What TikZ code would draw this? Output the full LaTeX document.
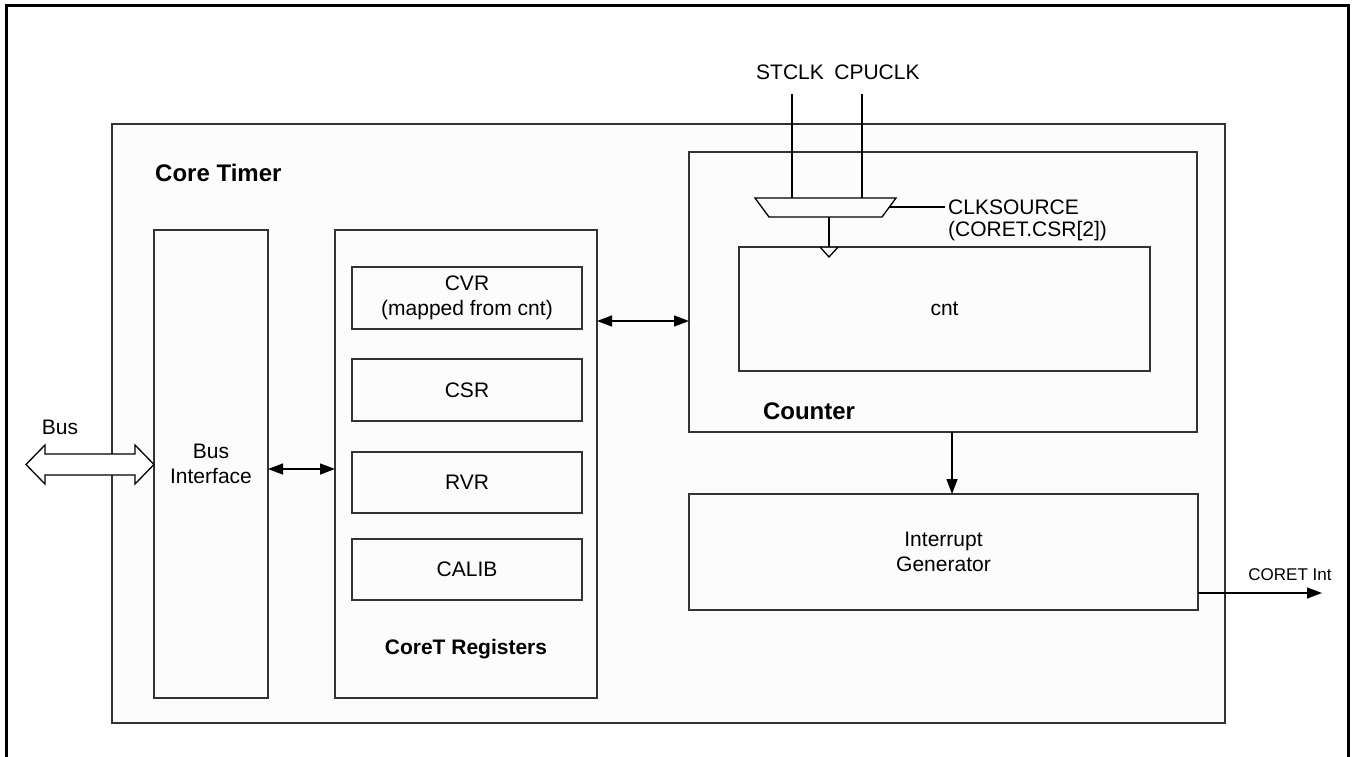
\documentclass[tikz,border=0pt]{standalone}
\usepackage{fontspec}
\setmainfont{Liberation Sans}
\usetikzlibrary{arrows.meta}
\definecolor{boxline}{HTML}{333333}
\definecolor{boxfill}{HTML}{FCFCFC}
\tikzset{
  blk/.style={draw=boxline, fill=boxfill, line width=1.5pt, inner sep=0pt, outer sep=0pt},
  txt/.style={font=\fontsize{21}{25}\selectfont, align=center, inner sep=0pt},
  btxt/.style={font=\fontsize{21}{25}\selectfont\bfseries, align=center, inner sep=0pt},
  bigb/.style={font=\fontsize{24}{28}\selectfont\bfseries, inner sep=0pt},
  smtxt/.style={font=\fontsize{17}{20}\selectfont, inner sep=0pt},
  conn/.style={line width=1.3pt, black},
  tip/.style={-{Triangle[length=15pt,width=11pt]}},
  dtip/.style={{Triangle[length=15pt,width=11pt]}-{Triangle[length=15pt,width=11pt]}},
}
\begin{document}
\begin{tikzpicture}[x=1pt,y=-1pt]
\useasboundingbox (0,0) rectangle (1355,756);
\begin{scope}
\clip (0,0) rectangle (1355,756);
\draw[line width=3pt, black] (6,5) rectangle (1348,780);
\end{scope}
% main boxes
\node[blk, minimum width=1113pt, minimum height=599pt] (coretimer) at (668.5,423.5) {};
\node[bigb, anchor=west] (ctlabel) at (155,173) {Core Timer};
\node[blk, minimum width=114pt, minimum height=468pt] (busif) at (211,464) {};
\node[txt] (busiflabel) at (211,464) {Bus\\Interface};
\node[blk, minimum width=262pt, minimum height=468pt] (regs) at (466,464) {};
\node[btxt] (regslabel) at (466,649) {CoreT Registers};
\node[blk, minimum width=230pt, minimum height=62pt, txt] (cvr) at (467,298) {CVR\\(mapped from cnt)};
\node[blk, minimum width=230pt, minimum height=62pt, txt] (csr) at (467,390) {CSR};
\node[blk, minimum width=230pt, minimum height=61pt, txt] (rvr) at (467,482.5) {RVR};
\node[blk, minimum width=230pt, minimum height=61pt, txt] (calib) at (467,569.5) {CALIB};
\node[blk, minimum width=508pt, minimum height=280pt] (counter) at (943,292) {};
\node[bigb] (counterlabel) at (809,411) {Counter};
\node[blk, minimum width=411pt, minimum height=124pt, txt] (cnt) at (944.5,309) {cnt};
\node[blk, minimum width=509pt, minimum height=116pt, txt] (intgen) at (943.5,552) {Interrupt\\Generator};
% clocks and mux
\node[txt] (stclk) at (790,72) {STCLK};
\node[txt] (cpuclk) at (877,72) {CPUCLK};
\coordinate (st0) at (792,94);
\coordinate (st1) at (792,198);
\coordinate (cp0) at (862,94);
\coordinate (cp1) at (862,198);
\draw[conn] (st0) -- (st1);
\draw[conn] (cp0) -- (cp1);
\coordinate (mTL) at (755,198);
\coordinate (mTR) at (896,198);
\coordinate (mBR) at (882,217);
\coordinate (mBL) at (769,217);
\draw[draw=black, line width=1.3pt, fill=boxfill, line join=miter] (mTL) -- (mTR) -- (mBR) -- (mBL) -- cycle;
\coordinate (mout) at (829,217);
\coordinate (clkin) at (829,247);
\draw[conn] (mout) -- (clkin);
\draw[conn, line join=miter] (820,247) -- (829,257) -- (838,247);
\coordinate (selA) at (889,207);
\coordinate (selB) at (945,207);
\draw[conn] (selA) -- (selB);
\node[txt, anchor=west] (clksrc) at (948,207) {CLKSOURCE};
\node[txt, anchor=west] (csrbit) at (948,231) {(CORET.CSR[2])};
% connectors
\draw[conn, dtip] (busif.east |- 0,469) -- (regs.west |- 0,469);
\draw[conn, dtip] (regs.east |- 0,321) -- (counter.west |- 0,321);
\draw[conn, tip] (counter.south -| 952,0) -- (intgen.north -| 952,0);
\coordinate (intout) at (1322,593);
\draw[conn, tip] (intgen.east |- intout) -- (intout);
\node[smtxt] (intlabel) at (1290,575) {CORET Int};
% bus arrow
\node[txt] (buslabel) at (60,427) {Bus};
\draw[line width=1.3pt, fill=white, line join=miter]
  (26,464.5) -- (45,445) -- (45,454) -- (135,454) -- (135,445) -- (busif.west |- 0,464.5)
  -- (135,484) -- (135,475) -- (45,475) -- (45,484) -- cycle;
\end{tikzpicture}
\end{document}
